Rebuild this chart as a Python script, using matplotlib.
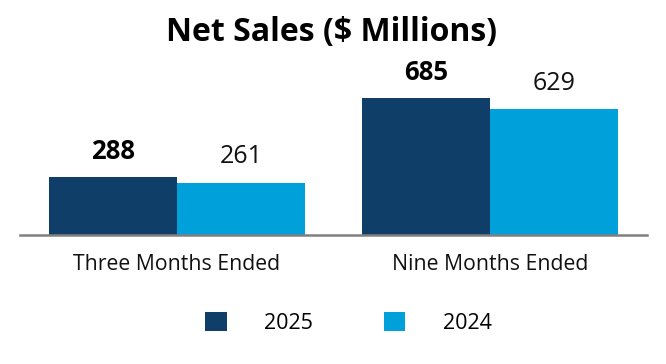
import matplotlib
matplotlib.use("Agg")
import matplotlib.pyplot as plt
import numpy as np

plt.rcParams['font.family'] = ['Open Sans', 'DejaVu Sans']

categories = ["Three Months Ended", "Nine Months Ended"]
series_names = ["2025", "2024"]
values_2025 = [288, 685]
values_2024 = [261, 629]
colors = ["#0f3f68", "#00a0db"]

fig = plt.figure(figsize=(6.66, 3.64), dpi=100)
ax = fig.add_axes([20/666, (364-235)/364, 627/666, 160/364])

x = np.arange(len(categories))
w = 0.409
b1 = ax.bar(x - w/2, values_2025, w, color=colors[0], label=series_names[0])
b2 = ax.bar(x + w/2, values_2024, w, color=colors[1], label=series_names[1])

for rect, v in zip(b1, values_2025):
    ax.annotate(f"{v}", (rect.get_x() + rect.get_width()/2, v), xytext=(0, 18.7),
                textcoords="offset points", ha="center", va="center",
                fontsize=18.5, fontweight="bold", color="#000000")
for rect, v in zip(b2, values_2024):
    ax.annotate(f"{v}", (rect.get_x() + rect.get_width()/2, v), xytext=(0, 18.7),
                textcoords="offset points", ha="center", va="center",
                fontsize=18, color="#111111")

ax.set_xlim(-0.5, 1.5)
ax.set_ylim(0, 800)
ax.set_xticks(x)
ax.set_xticklabels(categories, fontsize=15.3, color="#111111")
ax.tick_params(axis="x", length=0, pad=14)
ax.set_yticks([])
for s in ["top", "right", "left"]:
    ax.spines[s].set_visible(False)
ax.spines["bottom"].set_color("#808080")
ax.spines["bottom"].set_linewidth(1.8)

fig.text(332/666, 1 - 32/364, "Net Sales ($ Millions)", ha="center", va="center",
         fontsize=23, fontweight="bold")

fig.legend(handles=[b1, b2], labels=series_names, loc="center",
           bbox_to_anchor=(348/666, 1 - 323/364), ncol=2, frameon=False,
           fontsize=15.5, handlelength=1.02, handleheight=1.02, handletextpad=1.72,
           columnspacing=3.3)

fig.savefig("out.png", dpi=100)
